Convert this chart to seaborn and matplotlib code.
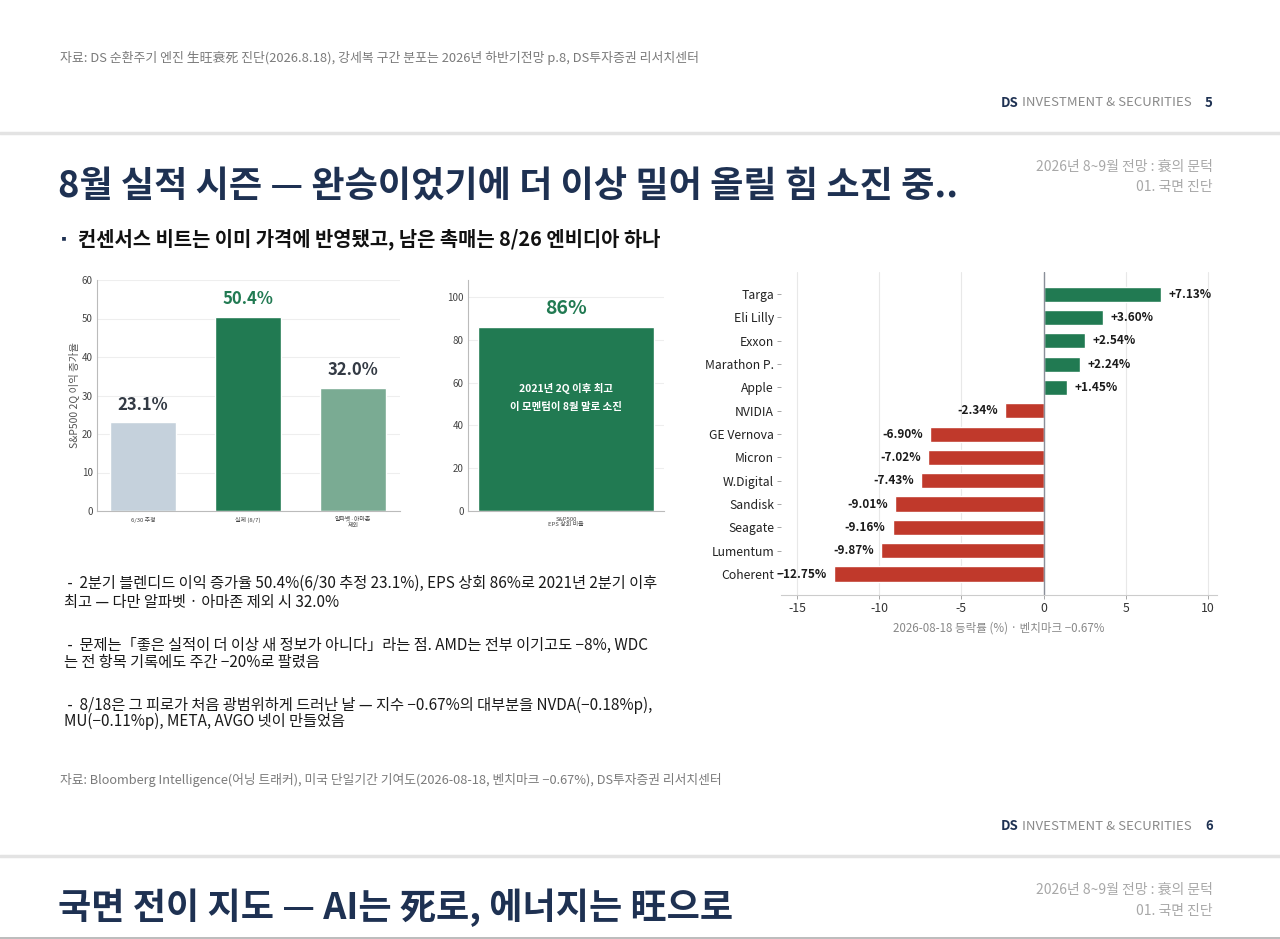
import matplotlib
matplotlib.use("Agg")
import matplotlib.pyplot as plt
import seaborn as sns
import pandas as pd
import numpy as np

sns.set_theme(style="white")
plt.rcParams['font.family'] = ['Noto Sans CJK KR', 'DejaVu Sans']
plt.rcParams['axes.unicode_minus'] = False

# ---------------- data ----------------
growth_cats = ["6/30 추정", "실제 (8/7)", "알파벳·아마존\n제외"]
growth_vals = [23.1, 50.4, 32.0]
growth_labels = ["23.1%", "50.4%", "32.0%"]

beat_cats = ["S&P500\nEPS 상회 비율"]
beat_vals = [86]
beat_labels = ["86%"]

stocks = ["Targa", "Eli Lilly", "Exxon", "Marathon P.", "Apple", "NVIDIA",
          "GE Vernova", "Micron", "W.Digital", "Sandisk", "Seagate",
          "Lumentum", "Coherent"]
returns = [7.13, 3.60, 2.54, 2.24, 1.45, -2.34, -6.90, -7.02, -7.43,
           -9.01, -9.16, -9.87, -12.75]
return_labels = ["+7.13%", "+3.60%", "+2.54%", "+2.24%", "+1.45%", "-2.34%",
                 "-6.90%", "-7.02%", "-7.43%", "-9.01%", "-9.16%", "-9.87%",
                 "−12.75%"]

# ---------------- styles ----------------
W, H = 1280, 939
NAVY = "#1e3152"
GREEN = "#217a52"
LIGHT = "#c5d1dc"
MIDG = "#7aab93"
RED = "#c0392b"
DARK = "#2b2b2b"

fig = plt.figure(figsize=(W / 100, H / 100), dpi=100)
fig.patch.set_facecolor("white")


def rect(l, t, r, b):
    return [l / W, 1 - b / H, (r - l) / W, (b - t) / H]


def ft(x, y, s, **kw):
    fig.text(x / W, 1 - y / H, s, **kw)


def hline(y, color, lw):
    fig.add_artist(plt.Line2D([0, 1], [1 - y / H, 1 - y / H],
                              color=color, lw=lw, transform=fig.transFigure))


# ---------------- page texts ----------------
ft(60, 58, "자료: DS 순환주기 엔진 生旺衰死 진단(2026.8.18), 강세복 구간 분포는 2026년 하반기전망 p.8, DS투자증권 리서치센터",
   fontsize=9.3, color="#7a7a7a", style="italic", va="center")


def footer(y, page):
    ft(1001, y, "DS", fontsize=9.5, color=NAVY, fontweight="bold", va="center")
    ft(1022, y, "INVESTMENT & SECURITIES", fontsize=9.5, color="#8a8a8a", va="center")
    ft(1213, y, page, fontsize=9.5, color=NAVY, fontweight="bold", va="center", ha="right")


footer(103, "5")
hline(133, "#e3e3e3", 2.5)

ft(58, 186, "8월 실적 시즌 — 완승이었기에 더 이상 밀어 올릴 힘 소진 중..",
   fontsize=26, color=NAVY, fontweight="bold", va="center")
ft(1213, 167, "2026년 8~9월 전망 : 衰의 문턱", fontsize=10, color="#a8a8a8", va="center", ha="right")
ft(1213, 187, "01. 국면 진단", fontsize=10, color="#a8a8a8", va="center", ha="right")

ft(57, 239, "▪", fontsize=10, color=NAVY, va="center")
ft(78, 239, "컨센서스 비트는 이미 가격에 반영됐고, 남은 촉매는 8/26 엔비디아 하나",
   fontsize=14.3, color="#111111", fontweight="bold", va="center")

paras = [
    (583, " -  2분기 블렌디드 이익 증가율 50.4%(6/30 추정 23.1%), EPS 상회 86%로 2021년 2분기 이후"),
    (603, "최고 — 다만 알파벳 · 아마존 제외 시 32.0%"),
    (645, " -  문제는「좋은 실적이 더 이상 새 정보가 아니다」라는 점. AMD는 전부 이기고도 −8%, WDC"),
    (663, "는 전 항목 기록에도 주간 −20%로 팔렸음"),
    (705, " -  8/18은 그 피로가 처음 광범위하게 드러난 날 — 지수 −0.67%의 대부분을 NVDA(−0.18%p),"),
    (721, "MU(−0.11%p), META, AVGO 넷이 만들었음"),
]
for y, s in paras:
    ft(64, y, s, fontsize=11, color="#1a1a1a", va="center")

ft(60, 780, "자료: Bloomberg Intelligence(어닝 트래커), 미국 단일기간 기여도(2026-08-18, 벤치마크 −0.67%), DS투자증권 리서치센터",
   fontsize=9.2, color="#7a7a7a", style="italic", va="center")

footer(826, "6")
hline(856, "#e3e3e3", 2.5)
ft(58, 908, "국면 전이 지도 — AI는 死로, 에너지는 旺으로",
   fontsize=26, color=NAVY, fontweight="bold", va="center")
ft(1213, 890, "2026년 8~9월 전망 : 衰의 문턱", fontsize=10, color="#a8a8a8", va="center", ha="right")
ft(1213, 911, "01. 국면 진단", fontsize=10, color="#a8a8a8", va="center", ha="right")
hline(937.5, "#b0b0b0", 1.2)

# ---------------- chart 1 : growth ----------------
ax1 = fig.add_axes(rect(97, 280, 400, 511))
df1 = pd.DataFrame({"cat": growth_cats, "val": growth_vals})
sns.barplot(data=df1, x="cat", y="val", hue="cat", palette=[LIGHT, GREEN, MIDG],
            legend=False, width=0.63, saturation=1, ax=ax1)
ax1.set_ylim(0, 60)
ax1.set_xlim(-0.44, 2.45)
ax1.set_yticks(range(0, 61, 10))
ax1.yaxis.grid(True, color="#eeeeee", lw=0.8)
ax1.set_axisbelow(True)
ax1.set_xlabel("")
ax1.set_ylabel("S&P500 2Q 이익 증가율", fontsize=7.5, color="#555555", labelpad=2)
ax1.tick_params(axis="y", labelsize=7, colors="#444444", length=0, pad=3)
ax1.tick_params(axis="x", labelsize=4.3, colors="#444444", length=0, pad=4)
for sp in ["top", "right"]:
    ax1.spines[sp].set_visible(False)
for sp in ["left", "bottom"]:
    ax1.spines[sp].set_color("#bbbbbb")
    ax1.spines[sp].set_linewidth(0.8)
lab_cols = ["#333a44", GREEN, "#333a44"]
for i, (v, lab) in enumerate(zip(growth_vals, growth_labels)):
    ax1.text(i, v + 2.2, lab, ha="center", va="bottom", fontsize=12,
             fontweight="bold", color=lab_cols[i])

# ---------------- chart 2 : beat ratio ----------------
ax2 = fig.add_axes(rect(468, 280, 664, 511))
df2 = pd.DataFrame({"cat": beat_cats, "val": beat_vals})
sns.barplot(data=df2, x="cat", y="val", color=GREEN, width=0.9, saturation=1, ax=ax2)
ax2.set_ylim(0, 108)
ax2.set_xlim(-0.5, 0.5)
ax2.set_yticks(range(0, 101, 20))
ax2.yaxis.grid(True, color="#eeeeee", lw=0.8)
ax2.set_axisbelow(True)
ax2.set_xlabel("")
ax2.set_ylabel("")
ax2.tick_params(axis="y", labelsize=7, colors="#444444", length=0, pad=3)
ax2.tick_params(axis="x", labelsize=4.3, colors="#444444", length=0, pad=4)
for sp in ["top", "right"]:
    ax2.spines[sp].set_visible(False)
for sp in ["left", "bottom"]:
    ax2.spines[sp].set_color("#bbbbbb")
    ax2.spines[sp].set_linewidth(0.8)
ax2.text(0, beat_vals[0] + 4, beat_labels[0], ha="center", va="bottom", fontsize=14,
         fontweight="bold", color=GREEN)
ax2.text(0, 53, "2021년 2Q 이후 최고\n이 모멘텀이 8월 말로 소진", ha="center", va="center",
         fontsize=7.5, fontweight="bold", color="white", linespacing=2.0)

# ---------------- chart 3 : single-day returns ----------------
ax3 = fig.add_axes(rect(781, 272, 1217, 595))
df3 = pd.DataFrame({"name": stocks, "ret": returns,
                    "sign": ["up" if r > 0 else "down" for r in returns]})
sns.barplot(data=df3, x="ret", y="name", hue="sign", palette={"up": GREEN, "down": RED},
            orient="h", dodge=False, legend=False, width=0.65, saturation=1, ax=ax3)
ax3.set_xlim(-15.97, 10.55)
ax3.set_ylim(12.9, -0.95)
ax3.set_xticks([-15, -10, -5, 0, 5, 10])
ax3.set_xticklabels(["-15", "-10", "-5", "0", "5", "10"])
ax3.xaxis.grid(True, color="#e8e8e8", lw=0.8)
ax3.set_axisbelow(True)
ax3.axvline(0, color="#8a8f99", lw=1.0)
ax3.set_ylabel("")
ax3.set_xlabel("2026-08-18 등락률 (%) · 벤치마크 −0.67%", fontsize=8.3, color="#888888", labelpad=5)
ax3.tick_params(axis="y", labelsize=8.8, colors="#222222", length=3, width=0.6,
                color="#999999", left=True, pad=2)
ax3.tick_params(axis="x", labelsize=8.8, colors="#333333", length=3, width=0.6,
                color="#999999", bottom=True, pad=2)
for sp in ["top", "right", "left"]:
    ax3.spines[sp].set_visible(False)
ax3.spines["bottom"].set_color("#cccccc")
ax3.spines["bottom"].set_linewidth(0.8)
for i, (v, lab) in enumerate(zip(returns, return_labels)):
    if v > 0:
        ax3.text(v + 0.45, i, lab, ha="left", va="center", fontsize=8.5,
                 fontweight="bold", color="#1a1a1a")
    else:
        ax3.text(v - 0.45, i, lab, ha="right", va="center", fontsize=8.5,
                 fontweight="bold", color="#1a1a1a")

fig.savefig("out.png", dpi=100, facecolor="white")
